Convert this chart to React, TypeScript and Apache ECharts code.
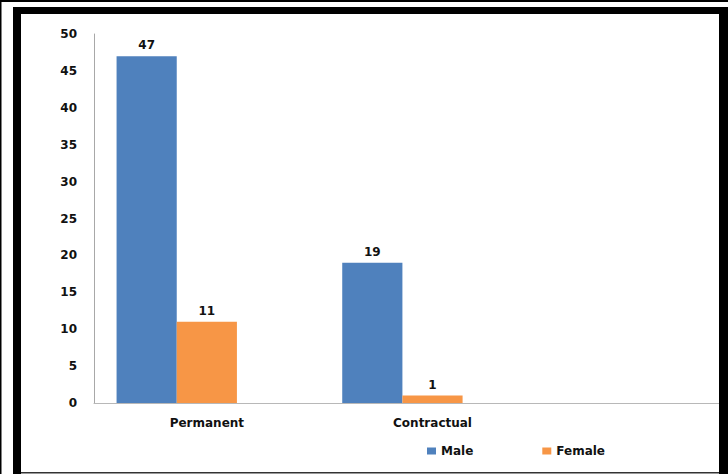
import React, { useEffect, useRef } from "react";
import * as echarts from "echarts";

const categories = ["Permanent", "Contractual", ""];
const maleValues = [47, 19, null];
const femaleValues = [11, 1, null];
const spareValues = [null, null, null];
const seriesNames = ["Male", "Female"];

export default function App() {
  const ref = useRef<HTMLDivElement>(null);
  useEffect(() => {
    if (!ref.current) return;
    const chart = echarts.init(ref.current, null, { renderer: "svg" });
    const font = "DejaVu Sans";
    const labelStyle = {
      show: true,
      position: "top" as const,
      distance: 5,
      fontFamily: font,
      fontWeight: "bold" as const,
      fontSize: 12,
      color: "#111",
    };
    chart.setOption({
      animation: false,
      backgroundColor: "#fff",
      grid: { left: 94, top: 34, width: 677, height: 369, outerBoundsMode: "none", containLabel: false },
      legend: {
        data: seriesNames,
        left: 422,
        top: 440,
        itemWidth: 9,
        itemHeight: 7,
        itemGap: 69,
        icon: "rect",
        textStyle: { fontFamily: font, fontWeight: "bold", fontSize: 12, color: "#111" },
      },
      xAxis: {
        type: "category",
        data: categories,
        axisLine: { show: true, lineStyle: { color: "#b8b8b8", width: 1 } },
        axisTick: { show: false },
        axisLabel: {
          margin: 14,
          fontFamily: font,
          fontWeight: "bold",
          fontSize: 12,
          color: "#111",
        },
        splitLine: { show: false },
      },
      yAxis: {
        type: "value",
        min: 0,
        max: 50,
        interval: 5,
        axisLine: { show: true, lineStyle: { color: "#a8a8a8", width: 1 } },
        axisTick: { show: false },
        splitLine: { show: false },
        axisLabel: {
          margin: 17,
          fontFamily: font,
          fontWeight: "bold",
          fontSize: 12,
          color: "#111",
        },
      },
      series: [
        {
          name: seriesNames[0],
          type: "bar",
          data: maleValues,
          barGap: "0%",
          barCategoryGap: "20%",
          itemStyle: { color: "#4F81BD" },
          label: labelStyle,
        },
        {
          name: seriesNames[1],
          type: "bar",
          data: femaleValues,
          barGap: "0%",
          barCategoryGap: "20%",
          itemStyle: { color: "#F79646" },
          label: labelStyle,
        },
        {
          name: "spare",
          type: "bar",
          data: spareValues,
          barGap: "0%",
          barCategoryGap: "20%",
          itemStyle: { color: "#9BBB59" },
        },
      ],
      graphic: [
        { type: "rect", z: 100, shape: { x: 0, y: 0, width: 728, height: 2 }, style: { fill: "#000" } },
        { type: "rect", z: 100, shape: { x: 0, y: 0, width: 1.5, height: 474 }, style: { fill: "#000" } },
        { type: "rect", z: 100, shape: { x: 13, y: 7, width: 715, height: 7 }, style: { fill: "#000" } },
        { type: "rect", z: 100, shape: { x: 13, y: 7, width: 8, height: 467 }, style: { fill: "#000" } },
        { type: "rect", z: 100, shape: { x: 719, y: 7, width: 9, height: 467 }, style: { fill: "#000" } },
        { type: "rect", z: 100, shape: { x: 21, y: 472, width: 698, height: 1.5 }, style: { fill: "#333" } },
      ],
    });
    return () => chart.dispose();
  }, []);
  return (
    <div
      ref={ref}
      style={{ position: "absolute", left: 0, top: 0, width: 728, height: 474 }}
    />
  );
}
